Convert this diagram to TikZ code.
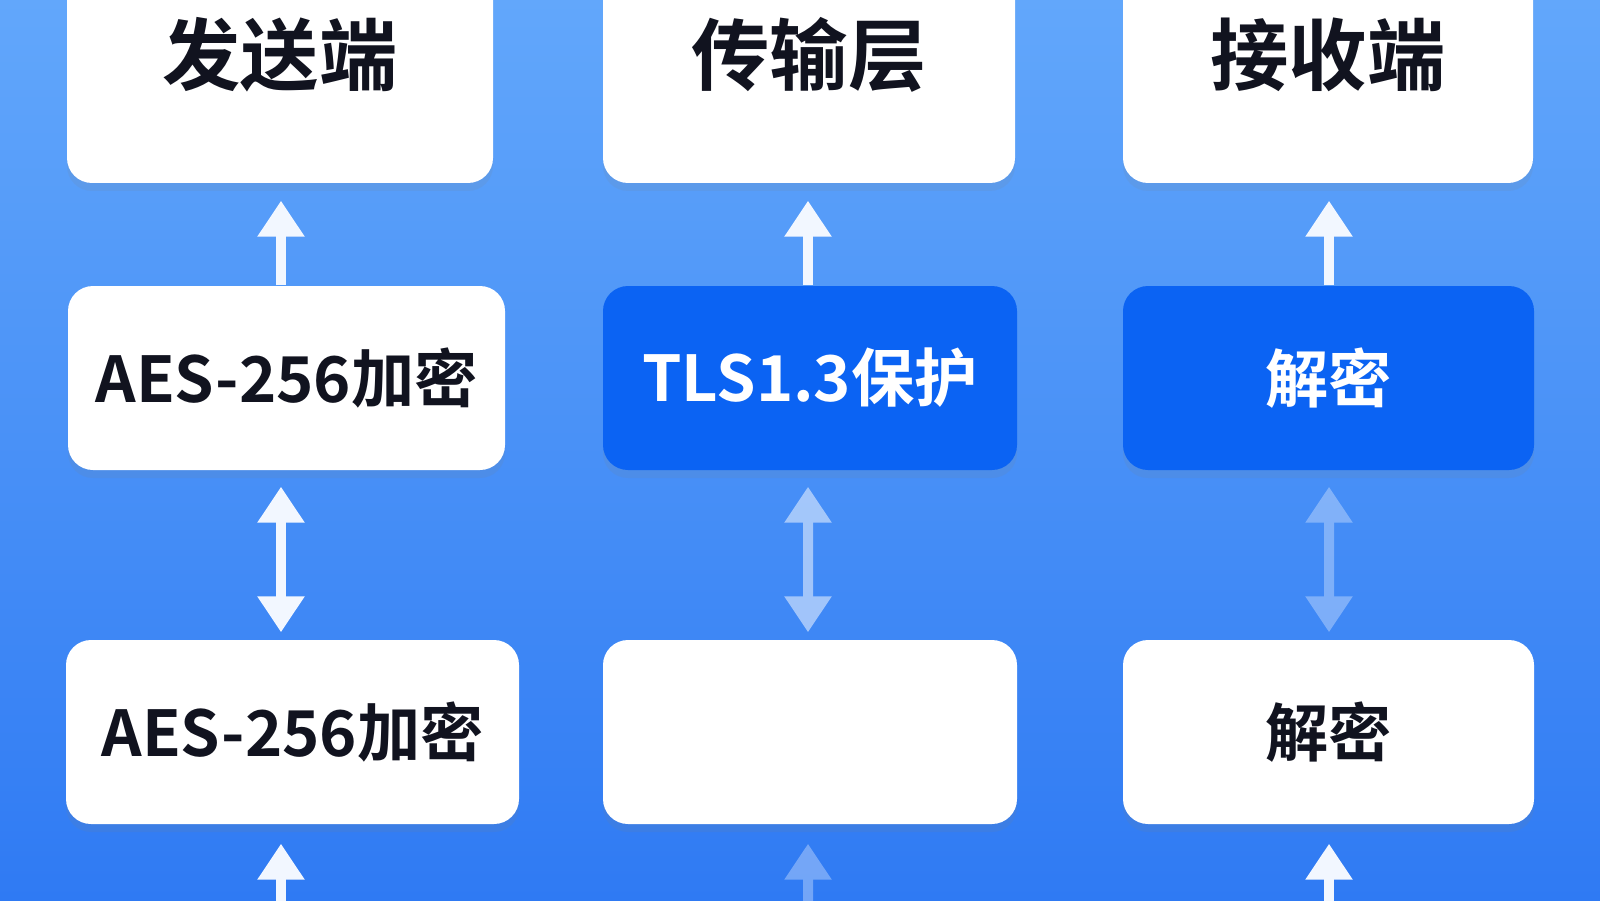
\documentclass[tikz,border=0pt]{standalone}
\usepackage{fontspec}
\setmainfont{Noto Sans CJK SC}[BoldFont={Noto Sans CJK SC Bold}]
\usetikzlibrary{arrows.meta,shadows}
\definecolor{sfondoalto}{HTML}{62A7FB}
\definecolor{sfondobasso}{HTML}{2F7AF3}
\definecolor{bluscatola}{HTML}{0B63F3}
\definecolor{testoscuro}{HTML}{11131F}
\definecolor{biancofreccia}{HTML}{F2F7FF}

\begin{document}
\begin{tikzpicture}[
    scatola/.style={rectangle, rounded corners=0.25cm, fill=white, text=testoscuro,
      font=\bfseries\fontsize{18}{21}\selectfont, minimum height=1.84cm,
      drop shadow={shadow xshift=0cm, shadow yshift=-0.08cm, opacity=0.12}},
    titolo/.style={scatola, minimum height=2.56cm, font=\bfseries\fontsize{22.3}{25}\selectfont},
    attiva/.style={scatola, fill=bluscatola, text=white},
    freccia/.style={biancofreccia, line width=0.1cm, -{Triangle[width=0.45cm, length=0.36cm]}},
    doppia/.style={freccia, {Triangle[width=0.45cm, length=0.36cm]}-{Triangle[width=0.45cm, length=0.36cm]}},
    tenue/.style={transparency group, opacity=#1}
  ]
  % Sfondo
  \useasboundingbox (0,0) rectangle (16,9);
  \clip (0,0) rectangle (16,9);
  \shade[top color=sfondoalto, bottom color=sfondobasso] (0,0) rectangle (16,9);

  % Definizione dei nodi
  \node[titolo, minimum width=4.26cm] (T1) at (2.80,8.45) {发送端};
  \node[titolo, minimum width=4.12cm] (T2) at (8.09,8.45) {传输层};
  \node[titolo, minimum width=4.10cm] (T3) at (13.28,8.45) {接收端};

  \node[scatola, minimum width=4.37cm] (M1) at (2.865,5.22) {AES-256加密};
  \node[attiva, minimum width=4.14cm] (M2) at (8.10,5.22) {TLS1.3保护};
  \node[attiva, minimum width=4.11cm] (M3) at (13.285,5.22) {解密};

  \node[scatola, minimum width=4.53cm] (B1) at (2.925,1.68) {AES-256加密};
  \node[scatola, minimum width=4.14cm] (B2) at (8.10,1.68) {};
  \node[scatola, minimum width=4.11cm] (B3) at (13.285,1.68) {解密};

  % Estremi liberi in basso
  \coordinate (E1) at (2.81,-0.1);
  \coordinate (E2) at (8.08,-0.1);
  \coordinate (E3) at (13.29,-0.1);

  % Definizione degli archi
  \draw[freccia, shorten >=0.17cm] (E1 |- M1.north) -- (E1 |- T1.south); % dal livello medio al titolo
  \draw[freccia, shorten >=0.17cm] (E2 |- M2.north) -- (E2 |- T2.south);
  \draw[freccia, shorten >=0.17cm] (E3 |- M3.north) -- (E3 |- T3.south);

  \draw[doppia, shorten <=0.16cm, shorten >=0.07cm] (E1 |- M1.south) -- (E1 |- B1.north); % doppio verso
  \begin{scope}[tenue=0.55]
    \draw[doppia, shorten <=0.16cm, shorten >=0.07cm] (E2 |- M2.south) -- (E2 |- B2.north);
  \end{scope}
  \begin{scope}[tenue=0.35]
    \draw[doppia, shorten <=0.16cm, shorten >=0.07cm] (E3 |- M3.south) -- (E3 |- B3.north);
  \end{scope}

  \draw[freccia, shorten >=0.19cm] (E1) -- (E1 |- B1.south); % dal bordo inferiore
  \begin{scope}[tenue=0.35]
    \draw[freccia, shorten >=0.19cm] (E2) -- (E2 |- B2.south);
  \end{scope}
  \draw[freccia, shorten >=0.19cm] (E3) -- (E3 |- B3.south);
\end{tikzpicture}
\end{document}
